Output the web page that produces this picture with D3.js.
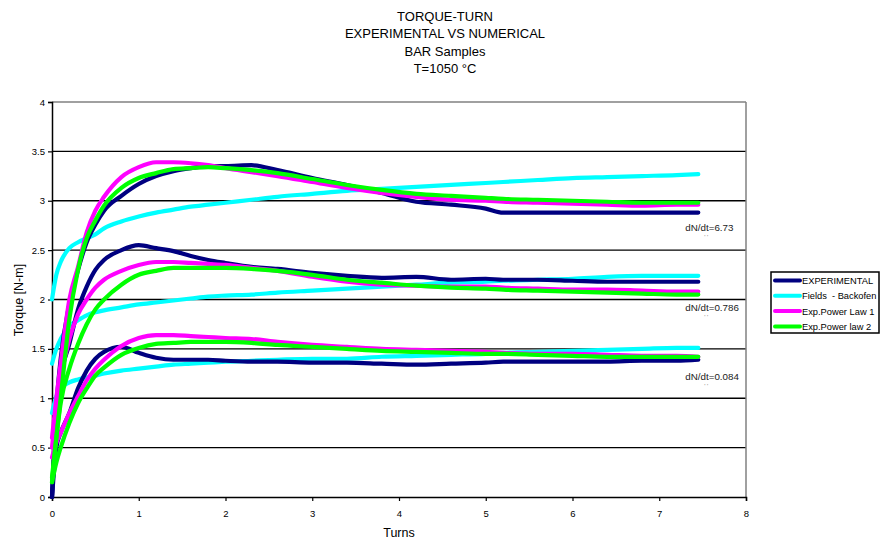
<!DOCTYPE html>
<html>
<head>
<meta charset="utf-8">
<script src="https://cdn.jsdelivr.net/npm/d3@7"></script>
<style>
  html, body { margin: 0; padding: 0; background: #fff; }
  svg { display: block; font-family: "Liberation Sans", Arial, sans-serif; }
</style>
</head>
<body>
<svg id="chart" width="883" height="545"></svg>
<script>
// Title lines
const titleLines = ["TORQUE-TURN", "EXPERIMENTAL VS NUMERICAL", "BAR Samples", "T=1050 °C"];

// Shared sampling of the turn axis
const turns = [0, 0.05, 0.1, 0.2, 0.3, 0.4, 0.5, 0.6, 0.8, 1.0, 1.2, 1.4, 1.6, 1.8, 2.0,
               2.3, 2.6, 3.0, 3.4, 3.8, 4.2, 4.6, 5.0, 5.2, 5.6, 6.0, 6.4, 6.8, 7.2, 7.45];

// dN/dt = 6.73
const exp673   = [0.0, 0.9, 1.4, 1.95, 2.3, 2.58, 2.76, 2.9, 3.05, 3.17, 3.25, 3.30, 3.33, 3.35, 3.35,
                  3.36, 3.31, 3.23, 3.16, 3.08, 2.99, 2.96, 2.92, 2.88, 2.88, 2.88, 2.88, 2.88, 2.88, 2.88];
const fb673    = [2.0, 2.25, 2.38, 2.52, 2.58, 2.62, 2.66, 2.72, 2.79, 2.84, 2.88, 2.91, 2.94, 2.96, 2.98,
                  3.01, 3.04, 3.07, 3.10, 3.12, 3.14, 3.16, 3.18, 3.19, 3.21, 3.23, 3.24, 3.25, 3.26, 3.27];
const pl1_673  = [0.6, 1.0, 1.35, 2.0, 2.33, 2.68, 2.9, 3.04, 3.24, 3.34, 3.39, 3.39, 3.38, 3.36, 3.33,
                  3.29, 3.25, 3.19, 3.13, 3.08, 3.04, 3.01, 3.0, 2.99, 2.98, 2.97, 2.96, 2.95, 2.96, 2.96];
const pl2_673  = [0.15, 0.6, 1.0, 1.8, 2.3, 2.62, 2.8, 2.95, 3.13, 3.23, 3.28, 3.32, 3.33, 3.34, 3.33,
                  3.31, 3.28, 3.22, 3.16, 3.11, 3.07, 3.05, 3.03, 3.02, 3.01, 3.0, 2.99, 2.98, 2.98, 2.98];

// dN/dt = 0.786
const exp786   = [0.0, 0.8, 1.2, 1.55, 1.9, 2.13, 2.3, 2.4, 2.5, 2.55, 2.52, 2.49, 2.44, 2.40, 2.37,
                  2.33, 2.31, 2.27, 2.24, 2.22, 2.23, 2.20, 2.21, 2.20, 2.20, 2.19, 2.18, 2.18, 2.18, 2.18];
const fb786    = [1.35, 1.5, 1.6, 1.73, 1.79, 1.84, 1.87, 1.89, 1.92, 1.95, 1.97, 1.99, 2.01, 2.03, 2.04,
                  2.05, 2.07, 2.09, 2.11, 2.13, 2.15, 2.17, 2.18, 2.19, 2.20, 2.21, 2.23, 2.24, 2.24, 2.24];
const pl1_786  = [0.5, 0.9, 1.2, 1.6, 1.85, 2.0, 2.12, 2.2, 2.29, 2.35, 2.38, 2.38, 2.37, 2.36, 2.35,
                  2.32, 2.29, 2.23, 2.18, 2.15, 2.14, 2.13, 2.13, 2.12, 2.11, 2.10, 2.10, 2.09, 2.08, 2.08];
const pl2_786  = [0.2, 0.6, 0.95, 1.3, 1.55, 1.75, 1.9, 2.0, 2.15, 2.25, 2.29, 2.32, 2.32, 2.32, 2.32,
                  2.31, 2.29, 2.25, 2.20, 2.17, 2.14, 2.12, 2.11, 2.10, 2.09, 2.08, 2.07, 2.06, 2.05, 2.05];

// dN/dt = 0.084
const exp084   = [0.0, 0.5, 0.65, 0.85, 1.1, 1.28, 1.4, 1.47, 1.52, 1.46, 1.41, 1.39, 1.39, 1.39, 1.38,
                  1.37, 1.37, 1.36, 1.36, 1.35, 1.34, 1.35, 1.36, 1.37, 1.37, 1.37, 1.37, 1.38, 1.38, 1.39];
const fb084    = [0.85, 1.02, 1.1, 1.16, 1.19, 1.21, 1.23, 1.25, 1.28, 1.30, 1.32, 1.34, 1.35, 1.36, 1.37,
                  1.38, 1.39, 1.40, 1.40, 1.42, 1.43, 1.44, 1.45, 1.46, 1.47, 1.48, 1.49, 1.50, 1.51, 1.51];
const pl1_084  = [0.4, 0.55, 0.65, 0.85, 1.02, 1.18, 1.3, 1.39, 1.53, 1.61, 1.64, 1.64, 1.63, 1.62, 1.61,
                  1.60, 1.57, 1.54, 1.52, 1.50, 1.49, 1.48, 1.47, 1.46, 1.45, 1.45, 1.44, 1.43, 1.43, 1.42];
const pl2_084  = [0.15, 0.35, 0.5, 0.75, 0.95, 1.1, 1.23, 1.31, 1.44, 1.51, 1.55, 1.56, 1.57, 1.57, 1.57,
                  1.56, 1.54, 1.52, 1.50, 1.48, 1.47, 1.46, 1.45, 1.45, 1.44, 1.43, 1.42, 1.42, 1.42, 1.42];

// Legend entries and colours
const seriesNames  = ["EXPERIMENTAL", "Fields  - Backofen", "Exp.Power Law 1", "Exp.Power law 2"];
const seriesColors = ["#000080", "#00FFFF", "#FF00FF", "#00FF00"];

// Rate annotations: label text and the torque level where each one sits
const rateLabels = ["dN/dt=6.73", "dN/dt=0.786", "dN/dt=0.084"];
const rateLabelTorque = [2.69, 1.88, 1.185];

const xTicks = [0, 1, 2, 3, 4, 5, 6, 7, 8];
const yTicks = [0, 0.5, 1, 1.5, 2, 2.5, 3, 3.5, 4];

// Series grouped by model (index into seriesNames); drawing order below
const groups = [
  { s: 1, data: [fb673, fb786, fb084] },
  { s: 0, data: [exp673, exp786, exp084] },
  { s: 2, data: [pl1_673, pl1_786, pl1_084] },
  { s: 3, data: [pl2_673, pl2_786, pl2_084] }
];

const svg = d3.select("#chart");
const plotLeft = 52, plotRight = 746, plotTop = 102, plotBottom = 497;

const x = d3.scaleLinear().domain([0, 8]).range([plotLeft, plotRight]);
const y = d3.scaleLinear().domain([0, 4]).range([plotBottom, plotTop]);

// Title
svg.append("g").selectAll("text").data(titleLines).join("text")
  .attr("x", 445).attr("y", (d, i) => 20.5 + i * 17.5)
  .attr("text-anchor", "middle").attr("font-size", 13).attr("fill", "#000")
  .text(d => d);

// Horizontal gridlines
svg.append("g").selectAll("line").data(yTicks.filter(v => v > 0 && v < 4)).join("line")
  .attr("x1", plotLeft).attr("x2", plotRight)
  .attr("y1", d => y(d)).attr("y2", d => y(d))
  .attr("stroke", "#000").attr("stroke-width", 1.3);

// Plot frame: top and right in grey
svg.append("line").attr("x1", plotLeft).attr("x2", plotRight).attr("y1", y(4)).attr("y2", y(4))
  .attr("stroke", "#808080").attr("stroke-width", 1.5);
svg.append("line").attr("x1", plotRight).attr("x2", plotRight).attr("y1", y(4)).attr("y2", y(0))
  .attr("stroke", "#808080").attr("stroke-width", 1.5);

// Axes
const xAxis = d3.axisBottom(x).tickValues(xTicks).tickFormat(d3.format("d")).tickSize(4).tickPadding(9);
const yAxis = d3.axisLeft(y).tickValues(yTicks).tickFormat(d => d).tickSize(4).tickPadding(3);

const gx = svg.append("g").attr("transform", `translate(0,${plotBottom})`).call(xAxis);
const gy = svg.append("g").attr("transform", `translate(${plotLeft},0)`).call(yAxis);
[gx, gy].forEach(g => {
  g.select(".domain").attr("stroke", "#000").attr("stroke-width", 1.5);
  g.selectAll(".tick line").attr("stroke", "#000").attr("stroke-width", 1.2);
  g.selectAll(".tick text").attr("font-size", 9.5).attr("fill", "#000")
    .attr("font-family", "'Liberation Sans', Arial, sans-serif");
});

// Axis titles
svg.append("text").attr("x", 399).attr("y", 537).attr("text-anchor", "middle")
  .attr("font-size", 12.5).text("Turns");
svg.append("text").attr("transform", "translate(23,300) rotate(-90)")
  .attr("text-anchor", "middle").attr("font-size", 12.5).text("Torque [N-m]");

// Curves
const line = d3.line()
  .x((d, i) => x(turns[i]))
  .y(d => y(d))
  .curve(d3.curveMonotoneX);

const curves = svg.append("g");
groups.forEach(g => {
  g.data.forEach(vals => {
    curves.append("path")
      .attr("d", line(vals))
      .attr("fill", "none")
      .attr("stroke", seriesColors[g.s])
      .attr("stroke-width", 4.2)
      .attr("stroke-linejoin", "round")
      .attr("stroke-linecap", "round");
  });
});

// Rate annotations
const ann = svg.append("g");
rateLabels.forEach((t, i) => {
  ann.append("text").attr("x", x(7.3)).attr("y", y(rateLabelTorque[i]))
    .attr("text-anchor", "start").attr("font-size", 9.8).attr("fill", "#222").text(t);
  ann.append("text").attr("x", x(7.3) + 21).attr("y", y(rateLabelTorque[i]) + 8)
    .attr("text-anchor", "middle").attr("font-size", 6).attr("fill", "#777").text("' '");
});

// Legend
const lg = svg.append("g").attr("transform", "translate(771,272)");
lg.append("rect").attr("x", 0).attr("y", 0).attr("width", 108).attr("height", 61)
  .attr("fill", "#fff").attr("stroke", "#000").attr("stroke-width", 1.5);
seriesNames.forEach((name, i) => {
  const ry = 8.5 + i * 15.3;
  lg.append("line").attr("x1", 4).attr("x2", 29).attr("y1", ry).attr("y2", ry)
    .attr("stroke", seriesColors[i]).attr("stroke-width", 4).attr("stroke-linecap", "round");
  lg.append("text").attr("x", 31).attr("y", ry + 3.5).attr("font-size", 9.3)
    .attr("fill", "#000").attr("xml:space", "preserve").text(name);
});
</script>
</body>
</html>
